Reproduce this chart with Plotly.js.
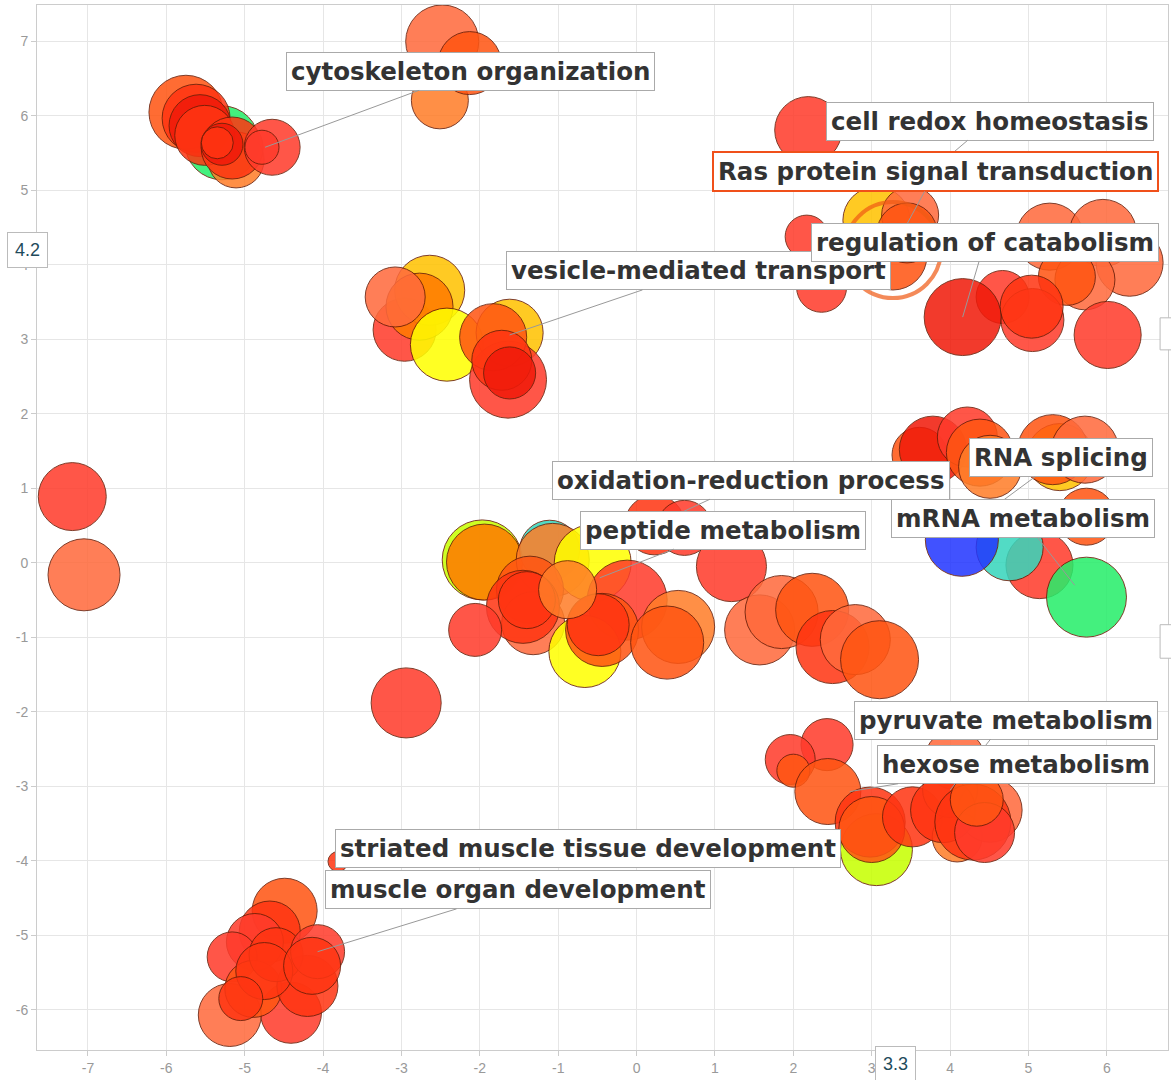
<!DOCTYPE html>
<html>
<head>
<meta charset="utf-8">
<script src="https://cdn.plot.ly/plotly-3.0.1.min.js"></script>
<style>
  body { margin: 0; background: #fff; }
  #plotArea { width: 1171px; height: 1080px; }
</style>
</head>
<body>
<div id="plotArea"></div>
<script>
// ---- GO term bubbles (semantic space x / y, log size, log10 p-value) ----
// clusters: cytoskeleton, top middle, vesicle, right top, middle, RNA, hexose, muscle, singles
const termX = [
  -5.29, -5.75, -5.62, -5.11, -5.57, -5.51, -5.16, -5.29, -5.35, -4.65, -4.78,
  -2.48, -2.51, -2.13,
  -2.96, -2.64, -2.77, -3.08, -2.42, -1.62, -1.64, -1.83, -1.72, -1.62,
  2.19, 2.17, 2.36, 3.06, 3.27, 3.49, 3.45, 5.27, 5.95, 6.29, 5.72, 5.49, 6.01, 4.67, 5.05, 5.04, 4.16,
  -1.97, -1.94, -1.11, -1.07, -0.56, -0.12, -1.36, -1.32, -1.45, -1.40, -2.06, -0.66, -0.44, -0.49,
  -0.88, 0.53, 0.39, 1.21, 0.23, 0.61, 1.57, 1.85, 2.24, 2.50, 2.79, 3.10,
  3.61, 3.78, 4.22, 4.38, 4.51, 5.40, 5.31, 5.72, 5.74, 5.14, 4.76, 4.15, 5.74,
  4.06, 2.43, 1.96, 2.00, 3.06, 2.44, 2.98, 3.00, 3.52, 4.09, 4.51, 4.00, 3.91, 4.29, 4.44, 4.34,
  -3.81, -4.49, -4.68, -4.87, -5.16, -4.41, -5.19, -4.89, -4.20, -4.60, -4.75, -4.07, -4.14, -5.05,
  -7.20, -7.05, -2.94
];
const termY = [
  5.64, 6.05, 5.97, 5.41, 5.87, 5.74, 5.57, 5.62, 5.64, 5.58, 5.58,
  7.00, 6.21, 6.71,
  3.13, 3.66, 3.44, 3.57, 2.93, 3.09, 2.46, 3.03, 2.72, 2.55,
  5.81, 4.38, 3.70, 4.60, 4.12, 4.67, 4.43, 4.38, 4.43, 4.03, 3.80, 3.84, 3.06, 3.57, 3.26, 3.44, 3.30,
  0.04, 0.01, 0.17, 0.04, 0.00, -0.50, -0.36, -0.81, -0.59, -0.50, -0.90, -1.19, -0.90, -0.83,
  -0.36, -0.86, -1.07, -0.05, 0.51, 0.47, -0.90, -0.66, -0.63, -1.13, -1.03, -1.30,
  1.45, 1.52, 1.69, 1.48, 1.29, 1.42, 1.52, 1.52, 0.62, -0.03, 0.21, 0.31, -0.46,
  -2.64, -2.44, -2.64, -2.79, -3.85, -3.07, -3.48, -3.58, -3.41, -3.68, -3.32, -3.05, -3.32, -3.48, -3.62, -3.18,
  -4.01, -4.67, -4.95, -5.09, -5.29, -6.04, -6.07, -5.72, -5.68, -5.26, -5.48, -5.22, -5.41, -5.85,
  0.89, -0.16, -1.88
];
const termLogSize = [
  4.93, 4.93, 4.53, 3.73, 4.13, 4.00, 4.13, 2.80, 2.13, 3.73, 2.27,
  4.87, 3.80, 4.20,
  4.20, 4.67, 4.47, 4.00, 4.87, 4.47, 5.13, 4.47, 4.00, 3.47,
  4.47, 2.87, 3.33, 4.47, 4.53, 3.80, 4.00, 4.47, 4.47, 4.47, 4.00, 3.80, 4.47, 3.53, 4.20, 4.20, 5.13,
  5.33, 5.07, 4.00, 4.87, 5.13, 5.33, 4.47, 4.20, 4.87, 3.80, 3.53, 4.80, 4.87, 4.13,
  3.87, 4.87, 4.87, 4.67, 4.00, 3.67, 4.67, 4.87, 4.87, 4.87, 4.67, 5.20,
  3.67, 4.47, 4.00, 4.47, 4.20, 4.47, 4.67, 4.47, 3.80, 4.47, 4.47, 4.87, 5.33,
  4.00, 3.47, 3.33, 2.20, 4.80, 4.40, 4.67, 4.40, 4.00, 3.33, 4.27, 3.67, 4.33, 5.07, 4.00, 3.53,
  1.33, 4.33, 4.07, 3.80, 3.33, 4.07, 4.20, 3.80, 4.07, 3.60, 3.80, 3.60, 3.80, 2.93,
  4.53, 4.80, 4.67
];
const termLogP = [
  -3, -10, -11, -8, -13, -11, -11, -13, -11, -12, -12,
  -9, -8, -10,
  -12, -6, -7, -9, -5, -6, -12, -10, -11, -13,
  -12, -12, -12, -6, -10, -9, -10, -9, -9, -9, -9, -10, -12, -12, -12, -11, -13,
  -4, -7, -2, -8, -5, -12, -10, -9, -11, -11, -12, -5, -10, -11,
  -8, -8, -10, -12, -11, -12, -9, -9, -10, -11, -9, -10,
  -10, -13, -12, -10, -8, -6, -10, -9, -10, -12, -2, -1, -3,
  -9, -12, -12, -10, -4, -10, -11, -10, -11, -8, -9, -10, -11, -11, -12, -10,
  -11, -10, -11, -12, -12, -12, -9, -10, -11, -11, -11, -12, -11, -11,
  -12, -9, -12
];

// highlighted term (Ras protein signal transduction)
const rasX = [3.27];
const rasY = [4.20];
const rasLogSize = [6.4];

// ---- labels (drawn in this order, later ones on top) ----
const labelText = [
  'cytoskeleton organization', 'cell redox homeostasis', 'Ras protein signal transduction',
  'vesicle-mediated transport', 'regulation of catabolism', 'oxidation-reduction process',
  'peptide metabolism', 'RNA splicing', 'mRNA metabolism', 'pyruvate metabolism',
  'hexose metabolism', 'striated muscle tissue development', 'muscle organ development'
];
const labelX = [-2.12, 4.51, 3.81, 0.79, 4.44, 1.46, 1.10, 5.41, 4.93, 4.71, 4.84, -0.62, -1.51];
const labelY = [6.60, 5.93, 5.25, 3.92, 4.30, 1.11, 0.44, 1.41, 0.59, -2.11, -2.71, -3.83, -4.39];
const pointX = [-4.74, 3.93, 3.27, -1.62, 4.16, 0.23, -0.47, 4.51, 5.59, 4.00, 2.72, -3.81, -4.07];
const pointY = [5.58, 5.41, 4.20, 3.06, 3.30, 0.51, -0.20, 0.71, -0.30, -3.05, -3.07, -4.01, -5.22];
const highlighted = 'Ras protein signal transduction';

// ---- axes ----
const xTicks = [-7, -6, -5, -4, -3, -2, -1, 0, 1, 2, 3, 4, 5, 6];
const yTicks = [-6, -5, -4, -3, -2, -1, 0, 1, 2, 3, 4, 5, 6, 7];
const xRange = [-7.65, 6.78];
const yRange = [-6.54, 7.49];
const spikeX = 3.3;
const spikeY = 4.2;

// colour by log10 p-value
const pColors = [
  [0.0000, '#f01a0a'], [0.0833, '#ff3b2b'], [0.1667, '#ff3512'], [0.2500, '#ff5512'],
  [0.3333, '#ff6a3c'], [0.4167, '#ff7d28'], [0.5000, '#ff7a00'], [0.5833, '#ffc200'],
  [0.6667, '#ffff00'], [0.7500, '#c6ff00'], [0.8333, '#26ee6a'], [0.9167, '#36d6bc'],
  [1.0000, '#2236ff']
];

const bubbles = {
  x: termX,
  y: termY,
  mode: 'markers',
  type: 'scatter',
  hoverinfo: 'skip',
  marker: {
    size: termLogSize,
    sizemode: 'diameter',
    sizeref: 1 / 15,
    color: termLogP,
    cmin: -13,
    cmax: -1,
    colorscale: pColors,
    showscale: false,
    opacity: 0.86,
    line: { color: '#6a1e08', width: 1 }
  }
};

const rasRing = {
  x: rasX,
  y: rasY,
  mode: 'markers',
  type: 'scatter',
  hoverinfo: 'skip',
  marker: {
    size: rasLogSize,
    sizemode: 'diameter',
    sizeref: 1 / 15,
    color: 'rgba(255,110,20,0)',
    line: { color: '#f05a14', width: 4 }
  }
};

const labelFont = { family: 'DejaVu Sans, Arial, sans-serif', size: 24.5, weight: 'bold', color: '#333' };

const annotations = labelText.map((t, i) => ({
  x: pointX[i],
  y: pointY[i],
  xref: 'x',
  yref: 'y',
  ax: labelX[i],
  ay: labelY[i],
  axref: 'x',
  ayref: 'y',
  text: t,
  showarrow: true,
  arrowhead: 0,
  arrowwidth: 1,
  arrowcolor: '#999',
  standoff: 0,
  xanchor: 'center',
  yanchor: 'middle',
  font: labelFont,
  bgcolor: '#fff',
  bordercolor: t === highlighted ? '#f0501a' : '#aaa',
  borderwidth: t === highlighted ? 2 : 1,
  borderpad: 4
}));

// crosshair readouts
const spikeFont = { family: 'Liberation Sans, Arial, sans-serif', size: 18, color: '#1f4b5b' };
annotations.push({
  xref: 'paper', yref: 'y', x: -0.0084, y: spikeY, text: String(spikeY),
  showarrow: false, xanchor: 'center', yanchor: 'middle', font: spikeFont,
  bgcolor: '#fff', bordercolor: '#bbb', borderwidth: 1, borderpad: 7
});
annotations.push({
  xref: 'x', yref: 'paper', x: spikeX, y: -0.0134, text: String(spikeX),
  showarrow: false, xanchor: 'center', yanchor: 'middle', font: spikeFont,
  bgcolor: '#fff', bordercolor: '#bbb', borderwidth: 1, borderpad: 7
});

const tickFont = { family: 'Liberation Sans, Arial, sans-serif', size: 14, color: '#999' };
const axisBase = {
  showgrid: true,
  gridcolor: '#e6e6e6',
  gridwidth: 1,
  zeroline: false,
  showline: true,
  linecolor: '#ccc',
  linewidth: 1,
  mirror: true,
  ticks: 'outside',
  ticklen: 5,
  tickcolor: '#ccc',
  tickfont: tickFont,
  fixedrange: true
};

const layout = {
  width: 1171,
  height: 1080,
  margin: { l: 37, r: 3, t: 5, b: 30, pad: 0 },
  paper_bgcolor: '#fff',
  plot_bgcolor: '#fff',
  showlegend: false,
  hovermode: false,
  xaxis: Object.assign({}, axisBase, {
    range: xRange, tickvals: xTicks, ticktext: xTicks.map(String)
  }),
  yaxis: Object.assign({}, axisBase, {
    range: yRange, tickvals: yTicks, ticktext: yTicks.map(String)
  }),
  annotations: annotations,
  // readout boxes cut by the right edge
  shapes: [
    { type: 'rect', xref: 'paper', yref: 'y', x0: 0.993, x1: 1.03, y0: 2.86, y1: 3.29,
      line: { color: '#bbb', width: 1 }, fillcolor: '#fff' },
    { type: 'rect', xref: 'paper', yref: 'y', x0: 0.993, x1: 1.03, y0: -1.28, y1: -0.83,
      line: { color: '#bbb', width: 1 }, fillcolor: '#fff' }
  ]
};

Plotly.newPlot('plotArea', [bubbles, rasRing], layout, { displayModeBar: false, staticPlot: true });
</script>
</body>
</html>
